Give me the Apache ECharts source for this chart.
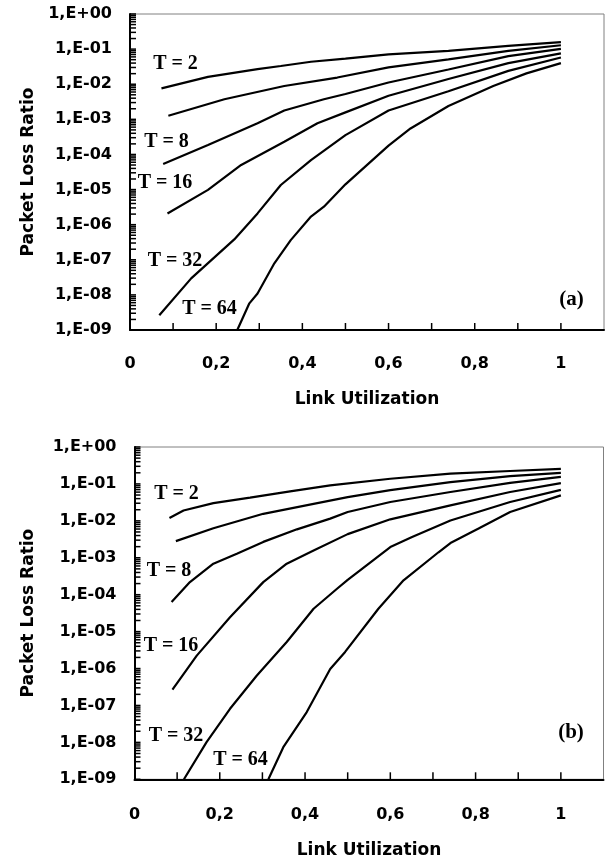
<!DOCTYPE html>
<html>
<head>
<meta charset="utf-8">
<script src="https://cdn.jsdelivr.net/npm/echarts@6/dist/echarts.min.js"></script>
<style>
html,body{margin:0;padding:0;background:#fff;}
#chart{width:608px;height:863px;}
</style>
</head>
<body>
<div id="chart"></div>
<script>
// ---- Data (x = link utilization, y = packet loss ratio) ----
// Panel (a)
const aT2  = [[0.073,7.6e-3],[0.181,1.62e-2],[0.296,2.69e-2],[0.35,3.31e-2],[0.42,4.37e-2],[0.5,5.37e-2],[0.6,7.08e-2],[0.739,8.91e-2],[0.878,0.123],[1.0,0.158]];
const aT4  = [[0.089,1.26e-3],[0.219,3.72e-3],[0.358,8.91e-3],[0.481,1.55e-2],[0.6,3.02e-2],[0.739,5.13e-2],[0.878,8.91e-2],[1.0,0.129]];
const aT8  = [[0.077,5.37e-5],[0.181,1.86e-4],[0.296,7.76e-4],[0.358,1.78e-3],[0.45,3.72e-3],[0.5,5.25e-3],[0.6,1.12e-2],[0.739,2.63e-2],[0.878,6.31e-2],[1.0,0.102]];
const aT16 = [[0.087,2.09e-6],[0.181,9.77e-6],[0.258,5.01e-5],[0.358,2.29e-4],[0.435,7.76e-4],[0.5,1.58e-3],[0.6,4.68e-3],[0.739,1.41e-2],[0.878,3.98e-2],[1.0,7.59e-2]];
const aT32 = [[0.068,2.63e-9],[0.142,2.95e-8],[0.242,3.8e-7],[0.296,2.09e-6],[0.35,1.35e-5],[0.42,6.92e-5],[0.5,3.55e-4],[0.6,1.78e-3],[0.739,6.31e-3],[0.878,2.4e-2],[1.0,5.75e-2]];
const aT64 = [[0.249,1.0e-9],[0.277,5.75e-9],[0.296,1.1e-8],[0.335,7.94e-8],[0.373,3.63e-7],[0.42,1.7e-6],[0.45,3.24e-6],[0.5,1.41e-5],[0.6,1.78e-4],[0.651,5.5e-4],[0.739,2.4e-3],[0.843,8.91e-3],[0.92,2.04e-2],[1.0,3.98e-2]];
// Panel (b)
const bT2  = [[0.082,1.2e-2],[0.115,1.91e-2],[0.185,3.02e-2],[0.271,4.27e-2],[0.365,6.31e-2],[0.459,9.12e-2],[0.6,0.138],[0.741,0.191],[0.881,0.224],[1.0,0.257]];
const bT4  = [[0.097,2.82e-3],[0.185,6.31e-3],[0.302,1.55e-2],[0.42,2.88e-2],[0.5,4.37e-2],[0.6,6.76e-2],[0.741,0.112],[0.881,0.162],[1.0,0.2]];
const bT8  = [[0.087,6.31e-5],[0.13,2.19e-4],[0.185,6.92e-4],[0.24,1.29e-3],[0.302,2.69e-3],[0.381,5.89e-3],[0.459,1.15e-2],[0.5,1.74e-2],[0.6,3.24e-2],[0.741,6.03e-2],[0.881,0.107],[1.0,0.155]];
const bT16 = [[0.089,2.69e-7],[0.146,2.24e-6],[0.224,2.45e-5],[0.302,2.19e-4],[0.357,6.92e-4],[0.42,1.58e-3],[0.5,4.37e-3],[0.6,1.1e-2],[0.741,2.63e-2],[0.881,6.03e-2],[1.0,0.105]];
const bT32 = [[0.116,1.0e-9],[0.169,1.02e-8],[0.224,8.13e-8],[0.287,6.46e-7],[0.357,5.25e-6],[0.42,4.17e-5],[0.475,1.45e-4],[0.5,2.51e-4],[0.6,1.95e-3],[0.651,3.63e-3],[0.741,1.02e-2],[0.881,3.24e-2],[1.0,6.92e-2]];
const bT64 = [[0.314,1.0e-9],[0.349,7.41e-9],[0.404,6.61e-8],[0.459,9.77e-7],[0.494,2.82e-6],[0.572,4.17e-5],[0.631,2.45e-4],[0.713,1.41e-3],[0.741,2.51e-3],[0.807,6.17e-3],[0.881,1.74e-2],[1.0,4.9e-2]];

const seriesNames = ['T = 2','T = 4','T = 8','T = 16','T = 32','T = 64'];
const curveLabels = ['T = 2','T = 8','T = 16','T = 32','T = 64'];
const panelTags = ['(a)','(b)'];
const xTitle = 'Link Utilization';
const yTitle = 'Packet Loss Ratio';
const yMin = 1e-9, yMax = 1;
const xMin = 0, xMax = 1.1, xStep = 0.1;

const panelA = [aT2,aT4,aT8,aT16,aT32,aT64];
const panelB = [bT2,bT4,bT8,bT16,bT32,bT64];

// tick positions on the log y axis (decades and 2..9 within each) and on the x axis
const yTickMarks = [];
for (let e = -9; e <= 0; e++) {
  yTickMarks.push([0, Math.pow(10, e)]);
  if (e < 0) for (let k = 2; k <= 9; k++) yTickMarks.push([0, k * Math.pow(10, e)]);
}
const xTickMarks = [];
for (let i = 1; i <= 10; i++) xTickMarks.push([i / 10, yMin]);

const SANS = 'DejaVu Sans';
const SERIF = 'Liberation Serif';

function yFmt(v){
  const e = Math.round(Math.log10(v));
  const s = e < 0 ? '-' : '+';
  const a = Math.abs(e);
  return '1,E' + s + (a < 10 ? '0' + a : '' + a);
}
function xFmt(v){
  const n = Math.round(v * 10);
  if (n % 2 !== 0 || n > 10) return '';
  if (n === 0) return '0';
  if (n === 10) return '1';
  return '0,' + n;
}

const grids = [
  {left:130, top:14, right:4, height:316},
  {left:134.5, top:447, right:4.5, height:332.3}
];

function xAxis(i){
  return {
    type:'value', gridIndex:i, min:xMin, max:xMax, interval:xStep,
    name:xTitle, nameLocation:'middle', nameGap:i===0?61:63,
    nameTextStyle:{fontFamily:SANS, fontWeight:'bold', fontSize:17, color:'#000'},
    axisLine:{show:true, onZero:false, lineStyle:{color:'#000', width:2}},
    axisTick:{show:false},
    axisLabel:{show:true, formatter:xFmt, margin:i===0?26:28, fontFamily:SANS, fontWeight:'bold', fontSize:16, color:'#000'},
    splitLine:{show:false}
  };
}
function yAxis(i){
  return {
    type:'log', logBase:10, gridIndex:i, min:yMin, max:yMax, interval:1,
    name:yTitle, nameLocation:'middle', nameGap:i===0?93:97, nameRotate:90,
    nameTextStyle:{fontFamily:SANS, fontWeight:'bold', fontSize:17, color:'#000'},
    axisLine:{show:true, lineStyle:{color:'#000', width:2}},
    axisTick:{show:false},
    axisLabel:{show:true, formatter:yFmt, margin:18, fontFamily:SANS, fontWeight:'bold', fontSize:16, color:'#000'},
    splitLine:{show:false}
  };
}

const series = [];
[panelA, panelB].forEach((panel, gi) => {
  panel.forEach((d, si) => {
    series.push({
      type:'line', name:seriesNames[si], xAxisIndex:gi, yAxisIndex:gi,
      data:d, showSymbol:false, smooth:false,
      lineStyle:{color:'#000', width:2.2}
    });
  });
  series.push({
    type:'custom', xAxisIndex:gi, yAxisIndex:gi,
    encode:{x:0, y:1}, data:yTickMarks, z:10,
    renderItem:function(params, api){
      const p = api.coord([api.value(0), api.value(1)]);
      return {type:'line', shape:{x1:p[0], y1:p[1], x2:p[0] + 6, y2:p[1]}, style:{stroke:'#000', lineWidth:1.5}};
    }
  });
  series.push({
    type:'custom', xAxisIndex:gi, yAxisIndex:gi,
    encode:{x:0, y:1}, data:xTickMarks, z:10,
    renderItem:function(params, api){
      const p = api.coord([api.value(0), api.value(1)]);
      return {type:'line', shape:{x1:p[0], y1:p[1], x2:p[0], y2:p[1] - 7}, style:{stroke:'#000', lineWidth:1.5}};
    }
  });
});

const labelPos = [
  [[175.5,63.5],[166.5,141.5],[165,182.5],[175,260.5],[209.5,309]],
  [[176.5,493.5],[169,570.5],[171,645.5],[176,735.5],[240.5,759.5]]
];
const tagPos = [[571.5,300],[571,732.5]];

const graphic = [];
labelPos.forEach((pp) => {
  pp.forEach((p, k) => {
    graphic.push({type:'text', x:p[0], y:p[1], z:100, style:{text:curveLabels[k], fontFamily:SERIF, fontWeight:'bold', fontSize:20, fill:'#000', align:'center', verticalAlign:'middle'}});
  });
});
tagPos.forEach((p, k) => {
  graphic.push({type:'text', x:p[0], y:p[1], z:100, style:{text:panelTags[k], fontFamily:SERIF, fontWeight:'bold', fontSize:21, fill:'#000', align:'center', verticalAlign:'middle'}});
});

const chart = echarts.init(document.getElementById('chart'));
chart.setOption({
  animation:false,
  grid: grids.map(g => Object.assign({show:true, borderColor:'#808080', borderWidth:1}, g)),
  xAxis:[xAxis(0), xAxis(1)],
  yAxis:[yAxis(0), yAxis(1)],
  series:series,
  graphic:graphic
});
</script>
</body>
</html>
